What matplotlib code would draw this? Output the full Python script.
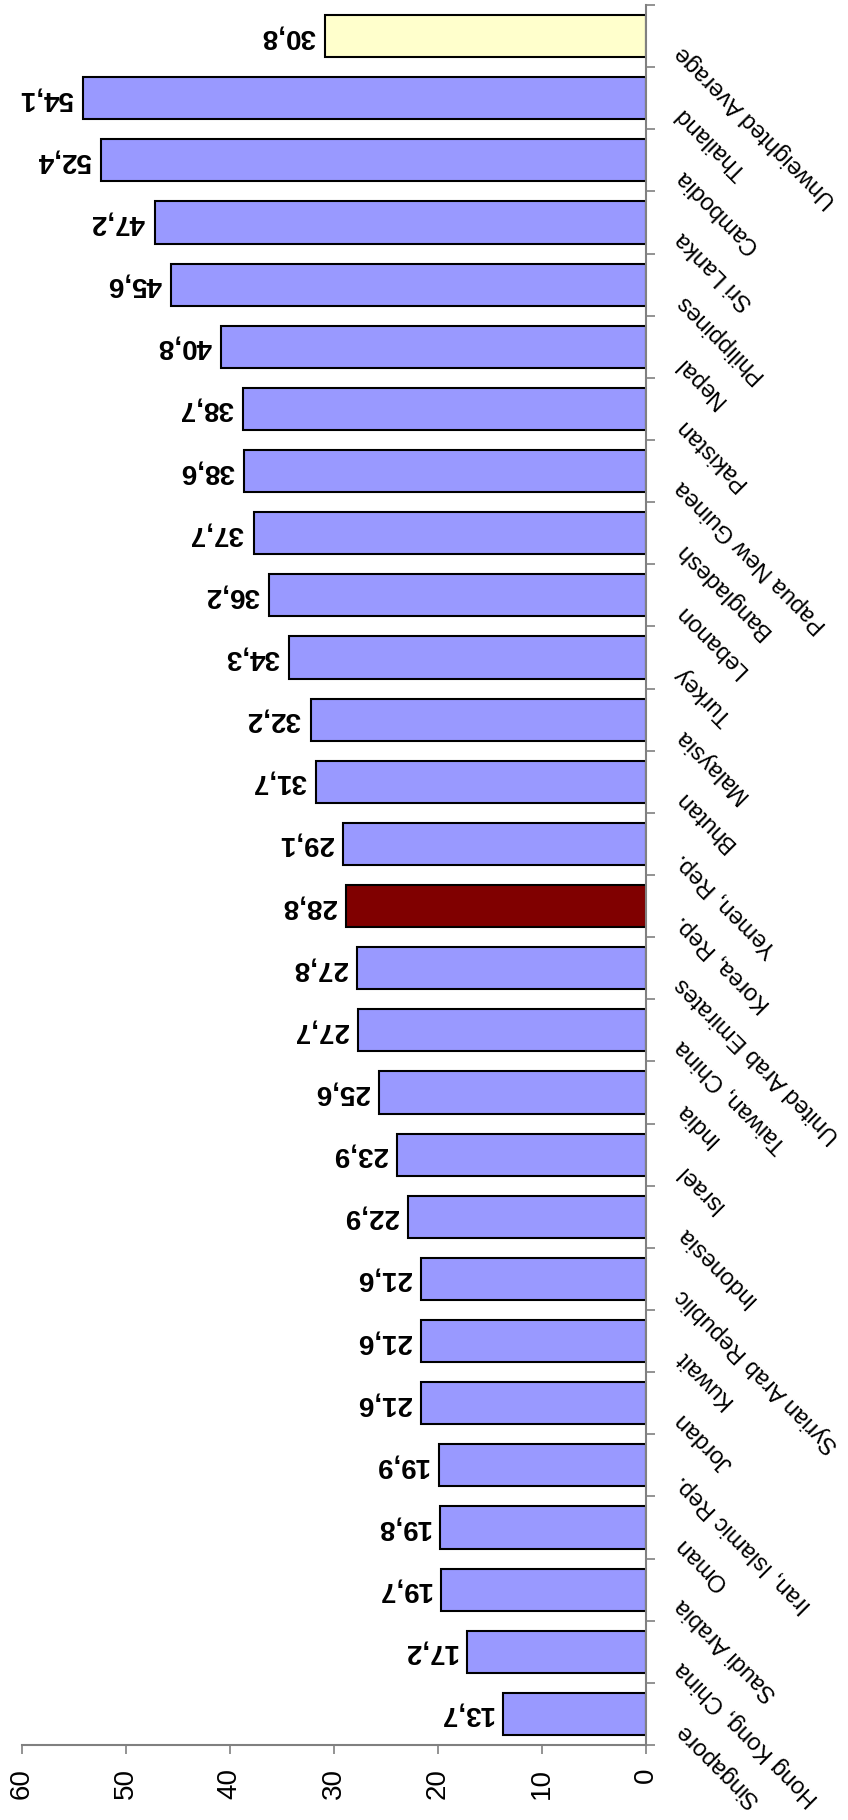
import matplotlib.pyplot as plt
import matplotlib.transforms as mtransforms

plt.rcParams['font.family'] = ['Liberation Sans', 'DejaVu Sans']

# categories listed from the bottom bar up
countries = [
    'Singapore', 'Hong Kong, China', 'Saudi Arabia', 'Oman', 'Iran, Islamic Rep.',
    'Jordan', 'Kuwait', 'Syrian Arab Republic', 'Indonesia', 'Israel', 'India',
    'Taiwan, China', 'United Arab Emirates', 'Korea, Rep.', 'Yemen, Rep.', 'Bhutan',
    'Malaysia', 'Turkey', 'Lebanon', 'Bangladesh', 'Papua New Guinea', 'Pakistan',
    'Nepal', 'Philippines', 'Sri Lanka', 'Cambodia', 'Thailand', 'Unweighted Average',
]
values = [
    13.7, 17.2, 19.7, 19.8, 19.9, 21.6, 21.6, 21.6, 22.9, 23.9, 25.6, 27.7, 27.8,
    28.8, 29.1, 31.7, 32.2, 34.3, 36.2, 37.7, 38.6, 38.7, 40.8, 45.6, 47.2, 52.4,
    54.1, 30.8,
]
value_ticks = [0, 10, 20, 30, 40, 50, 60]
highlight = 'Korea, Rep.'
average = 'Unweighted Average'

colors = []
for c in countries:
    if c == highlight:
        colors.append('#800000')
    elif c == average:
        colors.append('#FFFFCC')
    else:
        colors.append('#9999FF')

W, H = 848, 1820
fig = plt.figure(figsize=(W / 100, H / 100), dpi=100)
ax = fig.add_axes([21.7 / W, 75 / H, (645.7 - 21.7) / W, 1740 / H])

n = len(countries)
pos = list(range(n))
ax.barh(pos, values, height=0.68, color=colors, edgecolor='black', linewidth=1.5)

ax.set_xlim(60, 0)
ax.set_ylim(-0.5, n - 0.5)

for s in ['left', 'top']:
    ax.spines[s].set_visible(False)
for s in ['right', 'bottom']:
    ax.spines[s].set_color('#808080')
    ax.spines[s].set_linewidth(1.5)

# value axis (bottom), labels turned on their side
ax.set_xticks(value_ticks)
ax.set_xticklabels([str(v) for v in value_ticks], rotation=90, fontsize=20)
ax.tick_params(axis='x', direction='out', length=6.5, width=1.2, color='#808080', pad=10)

# category axis on the right, tick marks between the bars
ax.yaxis.tick_right()
ax.set_yticks([i - 0.5 for i in range(n + 1)])
ax.set_yticklabels([])
ax.tick_params(axis='y', direction='out', length=6.5, width=1.2, color='#808080')

# value labels, upside down, just past the end of each bar
val_off = ax.transData + mtransforms.ScaledTranslation(-10 / 100, 0, fig.dpi_scale_trans)
for i, v in enumerate(values):
    ax.text(v, i, f'{v:.1f}'.replace('.', ','), rotation=180, ha='right', va='center',
            fontsize=20, fontweight='bold', transform=val_off, clip_on=False)

# slanted category names
cat_off = ax.get_yaxis_transform() + mtransforms.ScaledTranslation(33 / 100, -13 / 100, fig.dpi_scale_trans)
for i, c in enumerate(countries):
    ax.text(1.0, i, c, rotation=135, rotation_mode='anchor', ha='right', va='center',
            fontsize=17, transform=cat_off, clip_on=False)

fig.savefig('out.png', dpi=100)
